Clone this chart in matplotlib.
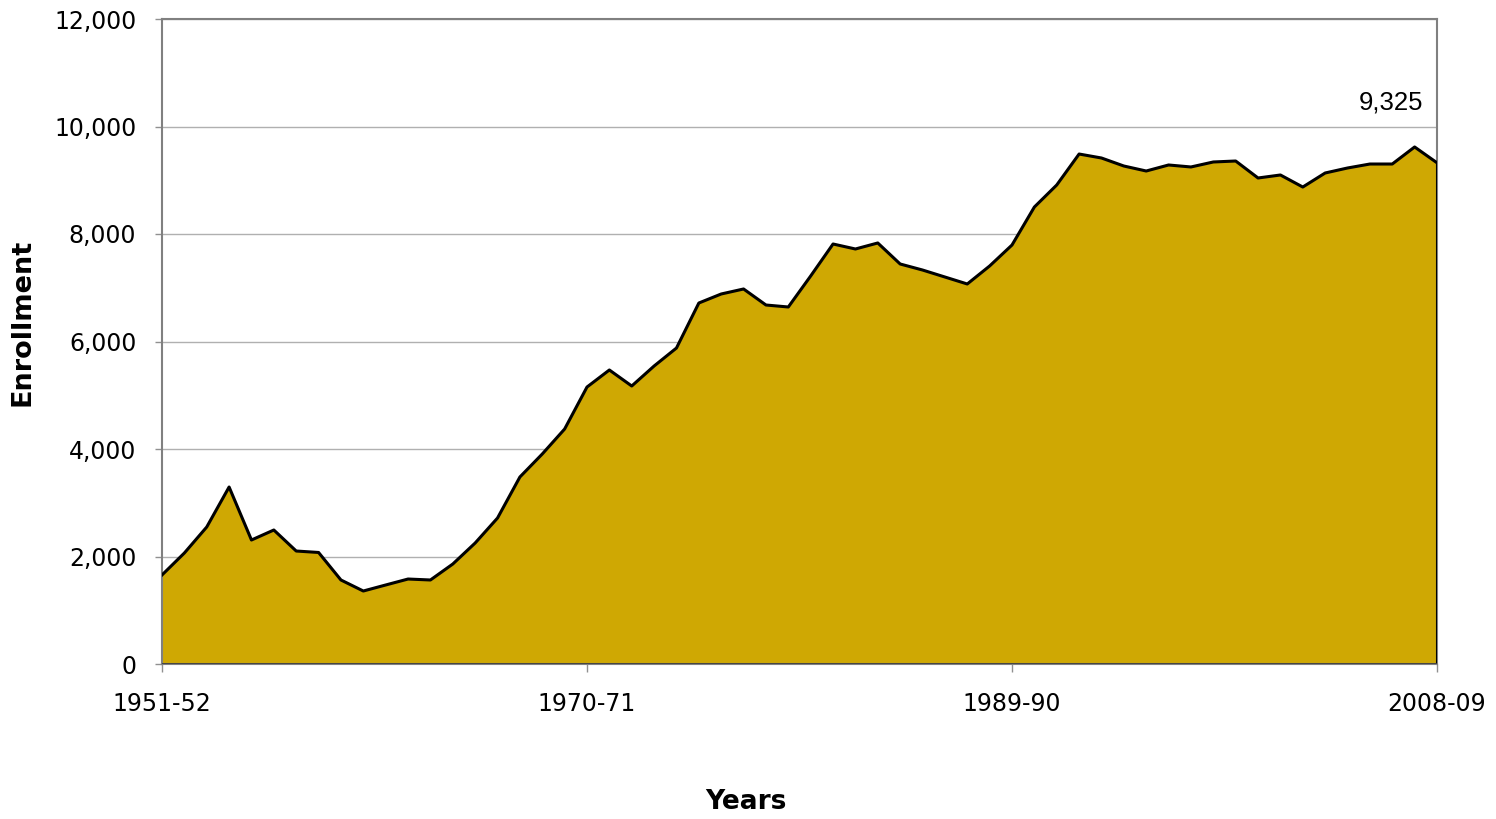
import matplotlib
matplotlib.use("Agg")
import matplotlib.pyplot as plt
import numpy as np

years = [f"{y}-{str(y+1)[-2:]}" for y in range(1951, 2009)]
enrollment = [1656, 2065, 2549, 3293, 2307, 2493, 2102, 2075, 1563, 1358,
              1470, 1581, 1563, 1860, 2251, 2716, 3479, 3907, 4372, 5153,
              5470, 5172, 5544, 5879, 6716, 6884, 6977, 6679, 6642, 7219,
              7814, 7721, 7833, 7442, 7330, 7200, 7070, 7405, 7795, 8502,
              8912, 9488, 9414, 9265, 9172, 9284, 9247, 9340, 9358, 9042,
              9098, 8874, 9135, 9228, 9302, 9302, 9619, 9325]
tick_labels = ["1951-52", "1970-71", "1989-90", "2008-09"]
y_ticks = [0, 2000, 4000, 6000, 8000, 10000, 12000]

fig = plt.figure(figsize=(14.96, 8.19), dpi=100)
ax = fig.add_axes([162/1496, 1-664/819, (1437-162)/1496, (664-19)/819])

x = np.arange(len(enrollment))
ax.fill_between(x, enrollment, 0, color="#CFA803", zorder=2, linewidth=0)
ax.plot(x, enrollment, color="black", linewidth=2.2, zorder=3)
ax.plot([x[-1], x[-1]], [0, enrollment[-1]], color="black", linewidth=2.2, zorder=3)
ax.plot([x[0], x[-1]], [0, 0], color="#404040", linewidth=2.0, zorder=3)

ax.set_xlim(0, len(enrollment) - 1)
ax.set_ylim(0, 12000)
ax.set_yticks(y_ticks)
ax.set_yticklabels([f"{v:,}" for v in y_ticks], fontsize=17, family="DejaVu Sans")
ax.set_xticks([years.index(t) for t in tick_labels])
ax.set_xticklabels(tick_labels, fontsize=17, family="DejaVu Sans")
ax.tick_params(axis="y", length=5, color="#909090", width=1, pad=13.5)
ax.tick_params(axis="x", length=6, color="#909090", width=1, pad=14.5)
ax.grid(axis="y", color="#B0B0B0", linewidth=1, zorder=1)
ax.set_axisbelow(True)
for s in ax.spines.values():
    s.set_color("#808080")
    s.set_linewidth(1.5)

ax.text(x[-1] - 0.6, 10450, f"{enrollment[-1]:,}", ha="right", va="center",
        fontsize=18.5, family="Liberation Sans")

fig.text(23/1496, 1-322/819, "Enrollment", rotation=90, ha="center", va="center",
         fontsize=19.5, fontweight="bold", family="DejaVu Sans")
fig.text(746/1496, 1-802/819, "Years", ha="center", va="center",
         fontsize=19, fontweight="bold", family="DejaVu Sans")

fig.savefig("out.png", dpi=100)
